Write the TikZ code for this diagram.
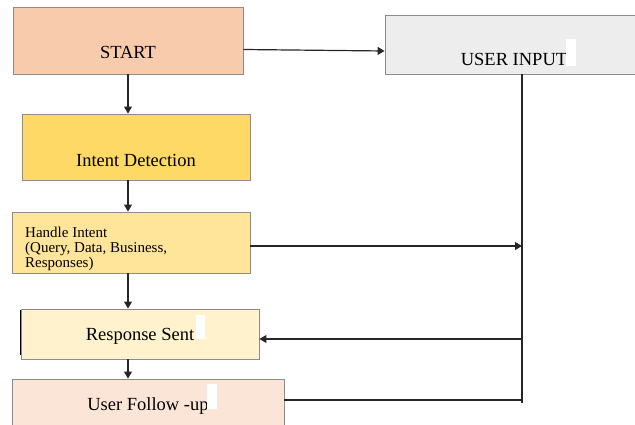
\documentclass[tikz,border=0pt]{standalone}
\usepackage{fontspec}
\setmainfont{Liberation Serif}
\usetikzlibrary{arrows.meta}

\definecolor{boxline}{HTML}{8C8C8C}
\definecolor{lineink}{HTML}{262626}
\definecolor{startfill}{HTML}{F7CBAC}
\definecolor{inputfill}{HTML}{EDEDED}
\definecolor{intentfill}{HTML}{FFD966}
\definecolor{handlefill}{HTML}{FFE599}
\definecolor{sentfill}{HTML}{FFF2CC}
\definecolor{followfill}{HTML}{FBE5D6}

\begin{document}
\begin{tikzpicture}[x=1pt,y=-1pt,
  box/.style={draw=boxline,line width=0.9pt,inner sep=0pt,font=\fontsize{18.5}{20}\selectfont},
  flow/.style={-{Triangle[length=7pt,width=8pt]},line width=1.2pt,draw=lineink},
  wire/.style={line width=1.2pt,draw=lineink},
  whitepatch/.style={fill=white}]
  \clip (0,0) rectangle (635,425);

  % boxes, text sits low in each box
  \node[box,fill=startfill,minimum width=230pt,text height=52pt,text depth=15pt] (start) at (128,40.5) {START};
  \node[box,fill=inputfill,minimum width=258pt,text height=51pt,text depth=8pt] (input) at (514,44.5) {USER INPUT};
  \node[box,fill=intentfill,minimum width=228pt,text height=52.7pt,text depth=13.3pt] (intent) at (136,147) {Intent Detection};
  \node[box,fill=handlefill,minimum width=238pt,minimum height=61pt] (handle) at (131,242.5) {};
  \node[anchor=north west,inner sep=0pt,align=left,font=\fontsize{15}{15}\selectfont] (handletext) at (25,226.4)
    {Handle Intent\\(Query, Data, Business,\\Responses)};
  \node[box,fill=sentfill,minimum width=238pt,text height=31pt,text depth=19pt] (sent) at (140,334) {Response Sent};
  \node[box,fill=followfill,minimum width=272pt,text height=31.7pt,text depth=21pt] (follow) at (148,405.35) {User Follow -up};

  % darker left edge on the response box
  \draw[line width=1.2pt,black] ([yshift=-1pt]sent.north west) -- ([yshift=4pt]sent.south west);

  % blank marks after some labels
  \fill[whitepatch] (566,39) rectangle (576,66);
  \fill[whitepatch] (196,315) rectangle (205,339);
  \fill[whitepatch] (207,384) rectangle (217,409);

  % main column
  \coordinate (col) at (128,0);
  \draw[flow] (col |- start.south) -- (col |- intent.north);
  \draw[flow] (col |- intent.south) -- (col |- handle.north);
  \draw[flow] (col |- handle.south) -- (col |- sent.north);
  \draw[flow] (col |- sent.south) -- (col |- follow.north);

  \draw[flow] ([yshift=-9pt]start.east) -- ([yshift=-6.5pt]input.west);

  % return line from user input
  \coordinate (j1) at (522,246);
  \coordinate (j2) at (522,339);
  \coordinate (j3) at (522,400);
  \draw[wire] (j1 |- input.south) -- ([yshift=-3pt]j3);
  \draw[flow] (handle.east |- j1) -- (j1);
  \draw[flow] (j2) -- (sent.east |- j2);
  \draw[wire] (follow.east |- j3) -- (j3);
\end{tikzpicture}
\end{document}
